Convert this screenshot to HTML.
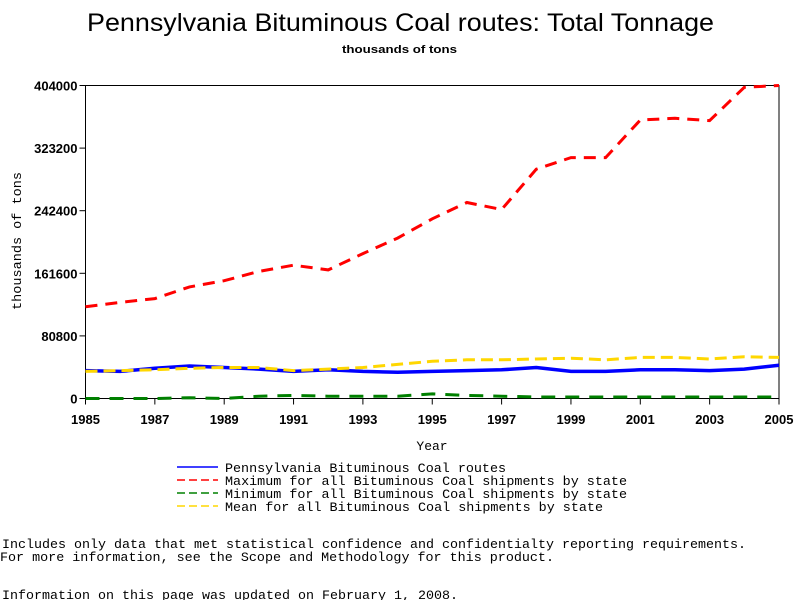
<!DOCTYPE html>
<html><head><meta charset="utf-8"><style>
body{margin:0;background:#fff;width:800px;height:600px;overflow:hidden}
svg{display:block}
text{font-family:"Liberation Sans",sans-serif}
.m{font-family:"Liberation Mono",monospace;font-size:13px}
.t{font-weight:bold;font-size:13px}
</style></head><body>
<svg id="chart" width="800" height="600" viewBox="0 0 800 600">
<text x="87" y="31" font-size="25" textLength="627" lengthAdjust="spacingAndGlyphs">Pennsylvania Bituminous Coal routes: Total Tonnage</text>
<text x="342" y="53" font-size="11" font-weight="bold" textLength="115" lengthAdjust="spacingAndGlyphs">thousands of tons</text>
<text class="m" transform="translate(21,241) rotate(-90)" text-anchor="middle" textLength="138" lengthAdjust="spacingAndGlyphs">thousands of tons</text>
<text class="m" x="432" y="450" text-anchor="middle">Year</text>
<g id="axes"></g>
<g id="series"></g>
<g>
<line x1="177" y1="467" x2="218" y2="467" stroke="#0000ff" stroke-width="1.5"/>
<line x1="177" y1="480" x2="218" y2="480" stroke="#ff0000" stroke-width="1.5" stroke-dasharray="8,4"/>
<line x1="177" y1="493" x2="218" y2="493" stroke="#008000" stroke-width="1.5" stroke-dasharray="8,4"/>
<line x1="177" y1="506" x2="218" y2="506" stroke="#ffd700" stroke-width="1.5" stroke-dasharray="8,4"/>
<text class="m" x="225" y="472" textLength="281" lengthAdjust="spacingAndGlyphs">Pennsylvania Bituminous Coal routes</text>
<text class="m" x="225" y="485" textLength="402" lengthAdjust="spacingAndGlyphs">Maximum for all Bituminous Coal shipments by state</text>
<text class="m" x="225" y="498" textLength="402" lengthAdjust="spacingAndGlyphs">Minimum for all Bituminous Coal shipments by state</text>
<text class="m" x="225" y="511" textLength="378" lengthAdjust="spacingAndGlyphs">Mean for all Bituminous Coal shipments by state</text>
</g>
<text class="m" x="2" y="548" textLength="744" lengthAdjust="spacingAndGlyphs">Includes only data that met statistical confidence and confidentialty reporting requirements.</text>
<text class="m" x="0" y="561" textLength="554" lengthAdjust="spacingAndGlyphs">For more information, see the Scope and Methodology for this product.</text>
<text class="m" x="2" y="599" textLength="456" lengthAdjust="spacingAndGlyphs">Information on this page was updated on February 1, 2008.</text>
</svg>
<script>
const years=[1985,1986,1987,1988,1989,1990,1991,1992,1993,1994,1995,1996,1997,1998,1999,2000,2001,2002,2003,2004,2005];
const paValues=[36000,35000,39000,42000,40000,38000,35000,37000,35000,34000,35000,36000,37000,40000,35000,35000,37000,37000,36000,38000,43000];
const maxValues=[118500,124000,129000,144000,152000,164000,172000,166000,187000,207000,232000,253000,244000,296000,311000,311000,359500,361700,358700,401700,404000];
const minValues=[0,0,0,1000,0,3000,4000,3000,3000,3000,6000,4000,3000,2000,2000,2000,2000,2000,2000,2000,2000];
const meanValues=[35000,36000,37000,39000,40000,40000,36000,38000,40000,44000,48000,50000,50000,51000,52000,50000,53000,53000,51000,54000,53000];
const yTicks=[0,80800,161600,242400,323200,404000];
const xTickLabels=[1985,1987,1989,1991,1993,1995,1997,1999,2001,2003,2005];
const X0=85.5,X1=779,Y0=398.5,Y1=85.5;
const xs=y=>X0+(y-1985)/(2005-1985)*(X1-X0);
const ys=v=>Y0-v/404000*(Y0-Y1);
const NS='http://www.w3.org/2000/svg';
const axes=document.getElementById('axes'),ser=document.getElementById('series');
function mk(tag,attrs,parent){const e=document.createElementNS(NS,tag);for(const k in attrs)e.setAttribute(k,attrs[k]);parent.appendChild(e);return e;}
let a=mk('path',{d:`M${X0},${Y1}V${Y0}H${X1}V${Y1}Z`,fill:'none',stroke:'#000','stroke-width':1},axes);


yTicks.forEach(v=>{
 const l=mk('line',{x1:X0-6,x2:X0,y1:ys(v),y2:ys(v),stroke:'#000'},axes);
 
 
 const t=mk('text',{x:X0-8,y:ys(v)+5,'text-anchor':'end',class:'t'},axes);
 t.textContent=v;
 
 
});
xTickLabels.forEach(v=>{
 const l=mk('line',{x1:xs(v),x2:xs(v),y1:Y0,y2:Y0+6,stroke:'#000'},axes);
 
 
 const t=mk('text',{x:xs(v),y:424,'text-anchor':'middle',class:'t'},axes);
 t.textContent=v;
 
 
});
function line(vals,color,dash,w,name){
 const d=vals.map((v,i)=>(i?'L':'M')+xs(years[i]).toFixed(1)+','+ys(v).toFixed(1)).join('');
 const p=mk('path',{d,fill:'none',stroke:color,'stroke-width':w,'stroke-dasharray':dash},ser);
 
 
}
line(paValues,'#0000ff','none',3.5,'pa-line');
line(meanValues,'#ffd700','12,6',3,'mean-line');
line(minValues,'#008000','14,10',3,'min-line');
line(maxValues,'#ff0000','12,8',3,'max-line');
</script>
</body></html>
